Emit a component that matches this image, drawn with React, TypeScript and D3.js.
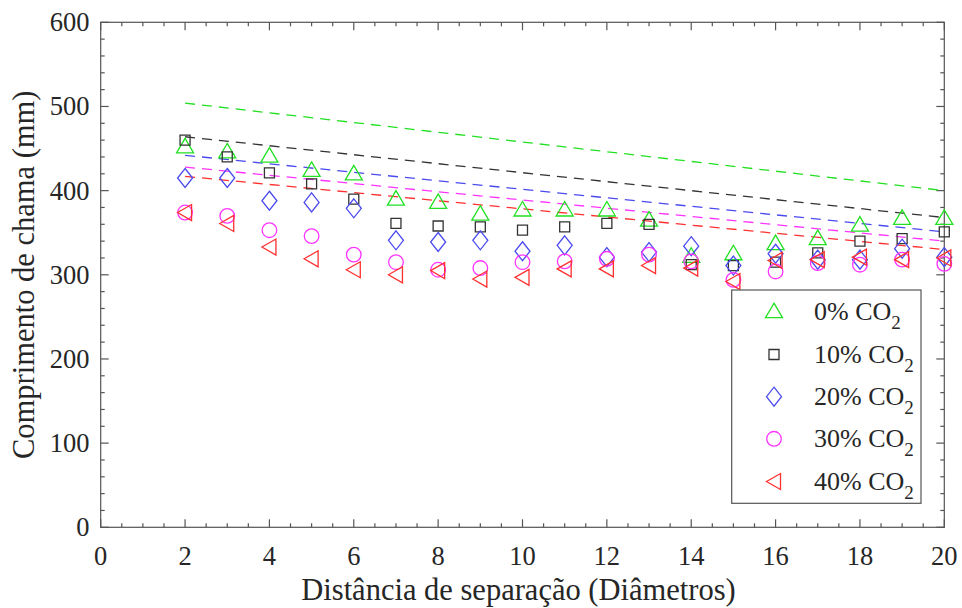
import React from "react";
import * as d3 from "d3";

const distances = [2, 3, 4, 5, 6, 7, 8, 9, 10, 11, 12, 13, 14, 15, 16, 17, 18, 19, 20];
const co2_0 = [452, 446, 441, 424, 420, 390, 386, 372, 377, 377, 377, 365, 322, 325, 337, 343, 359, 367, 367];
const co2_10 = [460, 440, 421, 408, 390, 361, 358, 357, 353, 357, 361, 360, 312, 311, 315, 326, 340, 343, 351];
const co2_20 = [415, 415, 388, 386, 379, 341, 339, 341, 328, 335, 321, 327, 334, 311, 325, 318, 318, 331, 321];
const co2_30 = [374, 370, 353, 346, 324, 315, 306, 308, 315, 316, 319, 324, 316, 294, 304, 314, 312, 318, 313];
const co2_40 = [374, 361, 333, 319, 306, 300, 305, 295, 297, 307, 307, 311, 308, 292, 317, 318, 321, 318, 320];

// dashed trend lines: value at x=2 and at x=20
const fitX = [2, 20];
const fit_0 = [504, 400];
const fit_10 = [464, 368];
const fit_20 = [442, 351];
const fit_30 = [428, 340];
const fit_40 = [417, 330];

const seriesLabels = ["0%", "10%", "20%", "30%", "40%"];
const xTicks = [0, 2, 4, 6, 8, 10, 12, 14, 16, 18, 20];
const yTicks = [0, 100, 200, 300, 400, 500, 600];

const colors = ["#22e022", "#333333", "#4a4aee", "#ff33ff", "#ff3030"];
const shapes = ["triUp", "square", "diamond", "circle", "triLeft"];

const FONT = "Liberation Serif";

function markerPath(shape: string): string {
  switch (shape) {
    case "triUp":
      return "M0,-8.5 L8.5,6 L-8.5,6 Z";
    case "square":
      return "M-5,-5 L5,-5 L5,5 L-5,5 Z";
    case "diamond":
      return "M0,-9.5 L7.5,0 L0,9.5 L-7.5,0 Z";
    case "circle":
      return d3.symbol(d3.symbolCircle, Math.PI * 7.3 * 7.3)() as string;
    case "triLeft":
      return "M-7.5,0 L6.5,-8 L6.5,8 Z";
  }
  return "";
}

export default function App() {
  const left = 100.7, right = 944.3, top = 22.3, bottom = 527.3;
  const x = d3.scaleLinear().domain([0, 20]).range([left, right]);
  const y = d3.scaleLinear().domain([0, 600]).range([bottom, top]);

  const series = [co2_0, co2_10, co2_20, co2_30, co2_40];
  const fits = [fit_0, fit_10, fit_20, fit_30, fit_40];

  const xMinor = d3.range(0, 20.001, 0.5).filter((v) => Math.abs(v % 2) > 1e-6);
  const yMinor = d3.range(0, 600.001, 20).filter((v) => v % 100 !== 0);

  const axisColor = "#555";
  const textColor = "#262626";
  const line = d3.line<number>().x((_, i) => x(fitX[i])).y((d) => y(d));

  const legendRows = [311.7, 354.5, 396.7, 438.8, 481.5];

  return (
    <svg width={962} height={608} style={{ position: "absolute", left: 0, top: 0, background: "#fff" }}>
      {/* frame */}
      <rect x={left} y={top} width={right - left} height={bottom - top} fill="none" stroke={axisColor} strokeWidth={1.2} />
      {/* ticks */}
      {xTicks.map((t) => (
        <g key={"xt" + t}>
          <line x1={x(t)} x2={x(t)} y1={bottom} y2={bottom - 8} stroke={axisColor} strokeWidth={1.2} />
          <line x1={x(t)} x2={x(t)} y1={top} y2={top + 8} stroke={axisColor} strokeWidth={1.2} />
          <text x={x(t)} y={565} textAnchor="middle" fontFamily={FONT} fontSize={26.5} fill={textColor}>{t}</text>
        </g>
      ))}
      {xMinor.map((t) => (
        <g key={"xm" + t}>
          <line x1={x(t)} x2={x(t)} y1={bottom} y2={bottom - 4} stroke={axisColor} strokeWidth={1.2} />
          <line x1={x(t)} x2={x(t)} y1={top} y2={top + 4} stroke={axisColor} strokeWidth={1.2} />
        </g>
      ))}
      {yTicks.map((t) => (
        <g key={"yt" + t}>
          <line x1={left} x2={left + 8} y1={y(t)} y2={y(t)} stroke={axisColor} strokeWidth={1.2} />
          <line x1={right} x2={right - 8} y1={y(t)} y2={y(t)} stroke={axisColor} strokeWidth={1.2} />
          <text x={89.5} y={y(t) + 9} textAnchor="end" fontFamily={FONT} fontSize={26.5} fill={textColor}>{t}</text>
        </g>
      ))}
      {yMinor.map((t) => (
        <g key={"ym" + t}>
          <line x1={left} x2={left + 4} y1={y(t)} y2={y(t)} stroke={axisColor} strokeWidth={1.2} />
          <line x1={right} x2={right - 4} y1={y(t)} y2={y(t)} stroke={axisColor} strokeWidth={1.2} />
        </g>
      ))}
      {/* axis titles */}
      <text x={(left + right) / 2 - 4} y={600} textAnchor="middle" fontFamily={FONT} fontSize={30.5} fill={textColor}>
        Distância de separação (Diâmetros)
      </text>
      <text transform={`translate(34, ${(top + bottom) / 2}) rotate(-90)`} textAnchor="middle" fontFamily={FONT} fontSize={30.5} fill={textColor}>
        Comprimento de chama (mm)
      </text>
      {/* trend lines */}
      {fits.map((f, i) => (
        <path key={"f" + i} d={line(f) as string} fill="none" stroke={colors[i]} strokeWidth={1.3} strokeDasharray="10,7" />
      ))}
      {/* markers */}
      {series.map((s, i) => (
        <g key={"s" + i}>
          {s.map((v, j) => (
            <path key={j} d={markerPath(shapes[i])} transform={`translate(${x(distances[j])},${y(v)})`} fill="none" stroke={colors[i]} strokeWidth={1.3} />
          ))}
        </g>
      ))}
      {/* legend */}
      <rect x={731.7} y={290} width={189.3} height={213.3} fill="#fff" stroke={axisColor} strokeWidth={1.2} />
      {seriesLabels.map((lab, i) => (
        <g key={"l" + i}>
          <path d={markerPath(shapes[i])} transform={`translate(774,${legendRows[i]})`} fill="none" stroke={colors[i]} strokeWidth={1.3} />
          <text x={814} y={legendRows[i] + 8.5} fontFamily={FONT} fontSize={26} fill={textColor}>
            {lab} CO<tspan dy={9} fontSize={19}>2</tspan>
          </text>
        </g>
      ))}
    </svg>
  );
}
